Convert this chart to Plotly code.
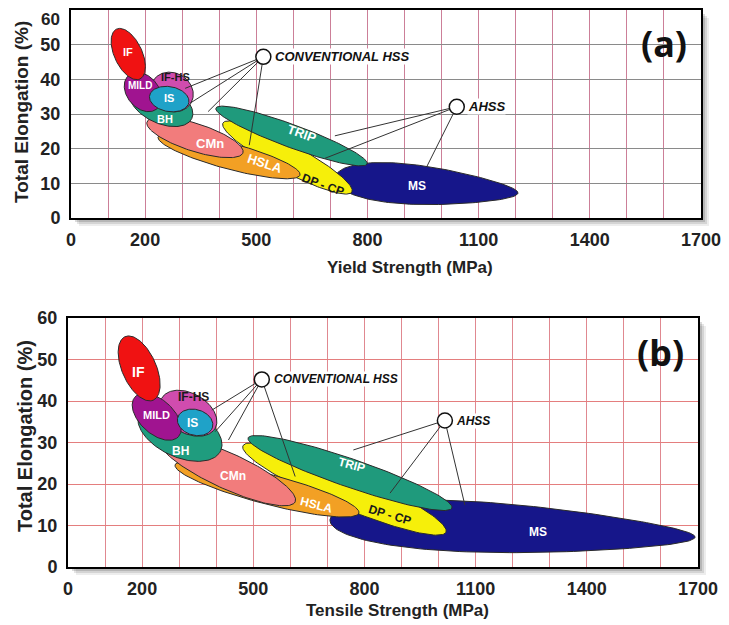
import numpy as np
import plotly.graph_objects as go

# the page body adds an 8 px margin, so the figure is drawn 8 px smaller and
# all reference pixel positions are shifted by that offset
OFF = 8
W, H = 729 - OFF, 625 - OFF

# ---------------- data ----------------
names = ["MS", "DP - CP", "TRIP", "HSLA", "CMn", "BH", "IF-HS", "MILD", "IS", "IF"]

# panel (a): yield strength (MPa) vs total elongation (%) ; major-axis end points + half width (%)
a_x1 = [712, 410, 391, 235, 205, 160, 221, 156, 212, 123]
a_y1 = [11.5, 27.4, 31.7, 23.4, 27.7, 37.0, 39.5, 41.2, 35.3, 54.5]
a_x2 = [1206, 758, 799, 618, 464, 326, 324, 232, 318, 186]
a_y2 = [7.2, 7.5, 15.6, 12.4, 18.8, 28.7, 33.2, 31.5, 33.3, 40.1]
a_w = [5.5, 4.0, 3.3, 3.75, 4.0, 5.5, 5.5, 4.6, 3.6, 4.0]
a_lx = [933, 681, 623, 524, 375, 254, 281, 187, 265, 154]
a_ly = [9.3, 9.5, 24.4, 15.8, 21.5, 28.6, 40.8, 38.1, 34.5, 47.8]

# panel (b): tensile strength (MPa) vs total elongation (%)
b_x1 = [707, 472, 486, 289, 248, 192, 253, 181, 296, 154]
b_y1 = [11.3, 29.2, 31.1, 24.6, 30.6, 37.1, 40.7, 41.0, 36.0, 55.5]
b_x2 = [1692, 1020, 1036, 785, 613, 412, 397, 298, 390, 230]
b_y2 = [7.2, 8.4, 14.2, 13.0, 15.7, 28.0, 33.4, 31.4, 33.7, 40.2]
b_w = [5.8, 4.3, 3.4, 3.6, 4.3, 6.0, 4.8, 4.1, 3.1, 4.1]
b_lx = [1269, 869, 766, 671, 444, 304, 338, 239, 336, 190]
b_ly = [8.5, 12.5, 24.6, 14.9, 22.0, 28.0, 41.0, 36.6, 34.6, 47.1]

# callout circles and leader line end points
a_conv = (519, 46.5)
a_ahss = (1041, 32.1)
a_conv_x = [308, 321, 370, 481]
a_conv_y = [37.4, 33.1, 30.7, 21.0]
a_ahss_x = [712, 685, 960]
a_ahss_y = [23.7, 17.2, 14.8]

b_conv = (523, 45.2)
b_ahss = (1017, 35.3)
b_conv_x = [388, 397, 433, 613]
b_conv_y = [37.8, 32.6, 30.6, 21.8]
b_ahss_x = [770, 869, 1071]
b_ahss_y = [28.2, 17.8, 14.9]

x_tickvals = list(range(0, 1701, 100))
x_labels = ["0", "200", "500", "800", "1100", "1400", "1700"]
y_tickvals = [0, 10, 20, 30, 40, 50, 60]

# ---------------- styles ----------------
fill_colors = {
    "MS": "#16168a", "DP - CP": "#f6ef0a", "TRIP": "#1f9a7c", "HSLA": "#f2a024",
    "CMn": "#f27c7c", "BH": "#1f9c7e", "IF-HS": "#d04cae", "MILD": "#a01490",
    "IS": "#1fa2c8", "IF": "#f01212",
}
text_colors = {n: "white" for n in names}
text_colors["IF-HS"] = "#1a1a1a"
text_colors["DP - CP"] = "#1a1a1a"
taper = {n: 0.0 for n in names}
taper["MS"] = 0.35

a_angles = {"TRIP": 20, "HSLA": 18, "DP - CP": 20}
b_angles = {"TRIP": 15, "HSLA": 14, "DP - CP": 17}
a_sizes = {"IF": 11, "MILD": 10, "IF-HS": 11, "IS": 11, "BH": 11, "CMn": 13,
           "HSLA": 13, "DP - CP": 12, "TRIP": 13, "MS": 12}
b_sizes = {"IF": 14, "MILD": 11, "IF-HS": 12, "IS": 12, "BH": 12, "CMn": 12,
           "HSLA": 12, "DP - CP": 12, "TRIP": 12, "MS": 12}

# plot areas in window pixels (x0, x1, y0, y1) -- top-left origin
A_BOX = (71, 701, 10, 218)
B_BOX = (68, 698, 318, 567)

FONT = "Liberation Sans, Arial, sans-serif"


def region(x1, y1, x2, y2, w, sx, sy, k=0.0, n=160):
    p1 = np.array([x1 * sx, y1 * sy])
    p2 = np.array([x2 * sx, y2 * sy])
    c = (p1 + p2) / 2
    d = p2 - p1
    a = np.linalg.norm(d) / 2
    u = d / (2 * a)
    v = np.array([-u[1], u[0]])
    t = np.linspace(0, 2 * np.pi, n)
    s = np.cos(t)
    half = w * sy * np.sin(t) * (1 - k * s)
    pts = c[None, :] + (a * s)[:, None] * u[None, :] + half[:, None] * v[None, :]
    return pts[:, 0] / sx, pts[:, 1] / sy


def pxx(x):
    return (x - OFF) / W


def pxy(y):
    return 1 - (y - OFF) / H


fig = go.Figure()
annotations = []
shapes = []


def add_panel(xa, ya, box, X1, Y1, X2, Y2, WW, LX, LY, angles, sizes,
              conv, ahss, cx, cy, hx, hy, tag, callout_size):
    sx = (box[1] - box[0]) / 1700.0
    sy = (box[3] - box[2]) / 60.0
    for i, nm in enumerate(names):
        ex, ey = region(X1[i], Y1[i], X2[i], Y2[i], WW[i], sx, sy, taper[nm])
        fig.add_trace(go.Scatter(x=ex, y=ey, mode="lines", fill="toself",
                                 fillcolor=fill_colors[nm],
                                 line=dict(color="#2a2a2a", width=1),
                                 hoverinfo="skip", showlegend=False,
                                 xaxis=xa, yaxis=ya))
    # leader lines
    for (ox, oy), xs, ys in ((conv, cx, cy), (ahss, hx, hy)):
        for ex, ey in zip(xs, ys):
            fig.add_trace(go.Scatter(x=[ox, ex], y=[oy, ey], mode="lines",
                                     line=dict(color="#333333", width=1),
                                     hoverinfo="skip", showlegend=False,
                                     xaxis=xa, yaxis=ya))
    fig.add_trace(go.Scatter(x=[conv[0], ahss[0]], y=[conv[1], ahss[1]], mode="markers",
                             marker=dict(size=15, color="white",
                                         line=dict(color="#111111", width=1.5)),
                             hoverinfo="skip", showlegend=False, xaxis=xa, yaxis=ya))
    for i, nm in enumerate(names):
        annotations.append(dict(
            x=LX[i], y=LY[i], xref=xa, yref=ya, text="<b>%s</b>" % nm, showarrow=False,
            xanchor="center", yanchor="middle",
            textangle=angles.get(nm, 0),
            font=dict(family=FONT, size=sizes[nm], color=text_colors[nm])))
    annotations.append(dict(
        x=conv[0], y=conv[1], xref=xa, yref=ya, xanchor="left", yanchor="middle", xshift=11,
        text="<b><i>CONVENTIONAL HSS</i></b>", showarrow=False, bgcolor="white",
        borderpad=0, font=dict(family=FONT, size=callout_size, color="#111111")))
    annotations.append(dict(
        x=ahss[0], y=ahss[1], xref=xa, yref=ya, xanchor="left", yanchor="middle", xshift=10,
        text="<b><i>AHSS</i></b>", showarrow=False, bgcolor="white", borderpad=0,
        font=dict(family=FONT, size=callout_size, color="#111111")))
    # panel tag
    annotations.append(dict(
        x=1668, y=58, xref=xa, yref=ya, xanchor="right", yanchor="top",
        text="<b>%s</b>" % tag, showarrow=False,
        font=dict(family="Noto Sans, Open Sans, sans-serif", size=36, color="#111111")))
    # soft shadow + white plot background
    x0, x1, y0, y1 = box
    for off, op in ((8, 0.07), (6, 0.10), (4, 0.14), (2, 0.18)):
        shapes.append(dict(type="rect", xref="paper", yref="paper", layer="below",
                           x0=pxx(x0 + off), x1=pxx(x1 + off),
                           y0=pxy(y1 + off), y1=pxy(y0 + off),
                           fillcolor="rgba(0,0,0,%s)" % op, line=dict(width=0)))
    shapes.append(dict(type="rect", xref="paper", yref="paper", layer="below",
                       x0=pxx(x0), x1=pxx(x1), y0=pxy(y1), y1=pxy(y0),
                       fillcolor="white", line=dict(width=0)))


add_panel("x", "y", A_BOX, a_x1, a_y1, a_x2, a_y2, a_w, a_lx, a_ly, a_angles, a_sizes,
          a_conv, a_ahss, a_conv_x, a_conv_y, a_ahss_x, a_ahss_y, "(a)", 13)
add_panel("x2", "y2", B_BOX, b_x1, b_y1, b_x2, b_y2, b_w, b_lx, b_ly, b_angles, b_sizes,
          b_conv, b_ahss, b_conv_x, b_conv_y, b_ahss_x, b_ahss_y, "(b)", 12)

tick_font = dict(family=FONT, size=18, color="#222222", weight="bold")

# axis titles as annotations
title_font = dict(family=FONT, size=17, color="#222222")
annotations += [
    dict(x=pxx(410), y=pxy(267), xref="paper", yref="paper", showarrow=False,
         xanchor="center", yanchor="middle",
         text="<b>Yield Strength (MPa)</b>", font=title_font),
    dict(x=pxx(397), y=pxy(610), xref="paper", yref="paper", showarrow=False,
         xanchor="center", yanchor="middle",
         text="<b>Tensile Strength (MPa)</b>", font=title_font),
    dict(x=pxx(21), y=pxy(112), xref="paper", yref="paper", showarrow=False, textangle=-90,
         xanchor="center", yanchor="middle",
         text="<b>Total Elongation (%)</b>", font=dict(title_font, size=19)),
    dict(x=pxx(25), y=pxy(436), xref="paper", yref="paper", showarrow=False, textangle=-90,
         xanchor="center", yanchor="middle",
         text="<b>Total Elongation (%)</b>", font=dict(title_font, size=20)),
    # top tick label of panel (a) sits just inside the page edge
    dict(x=pxx(61), y=pxy(20), xref="paper", yref="paper", showarrow=False,
         xanchor="right", yanchor="middle", text="<b>%d</b>" % y_tickvals[-1],
         borderpad=0, font=dict(family=FONT, size=17, color="#222222")),
]

x_ticktext = [str(v) if str(v) in x_labels else "" for v in x_tickvals]
a_y_ticktext = [str(v) for v in y_tickvals[:-1]] + [""]
b_y_ticktext = [str(v) for v in y_tickvals]


def xaxis_cfg(box, gridcolor):
    return dict(domain=[pxx(box[0]), pxx(box[1])], range=[0, 1700], tickvals=x_tickvals,
                ticktext=x_ticktext, showgrid=True, gridcolor=gridcolor, gridwidth=1,
                zeroline=False, showline=True, linecolor="black", linewidth=2, mirror=True,
                ticks="", tickfont=tick_font, ticklabelstandoff=4, fixedrange=True,
                automargin=False)


def yaxis_cfg(box, gridcolor, anchor, ticktext):
    return dict(domain=[pxy(box[3]), pxy(box[2])], range=[0, 60], tickvals=y_tickvals,
                ticktext=ticktext,
                showgrid=True, gridcolor=gridcolor, gridwidth=1, zeroline=False,
                showline=True, linecolor="black", linewidth=2, mirror=True, ticks="",
                tickfont=tick_font, ticklabelstandoff=5, anchor=anchor, fixedrange=True,
                automargin=False)


fig.update_layout(
    width=W, height=H,
    margin=dict(l=0, r=0, t=0, b=0, pad=0),
    paper_bgcolor="white", plot_bgcolor="rgba(0,0,0,0)",
    showlegend=False,
    xaxis=dict(xaxis_cfg(A_BOX, "#cc7f98"), anchor="y"),
    yaxis=yaxis_cfg(A_BOX, "#8a8a8a", "x", a_y_ticktext),
    xaxis2=dict(xaxis_cfg(B_BOX, "#e08890"), anchor="y2"),
    yaxis2=yaxis_cfg(B_BOX, "#e47e7e", "x2", b_y_ticktext),
    annotations=annotations,
    shapes=shapes,
)

fig.write_html("out.html")
